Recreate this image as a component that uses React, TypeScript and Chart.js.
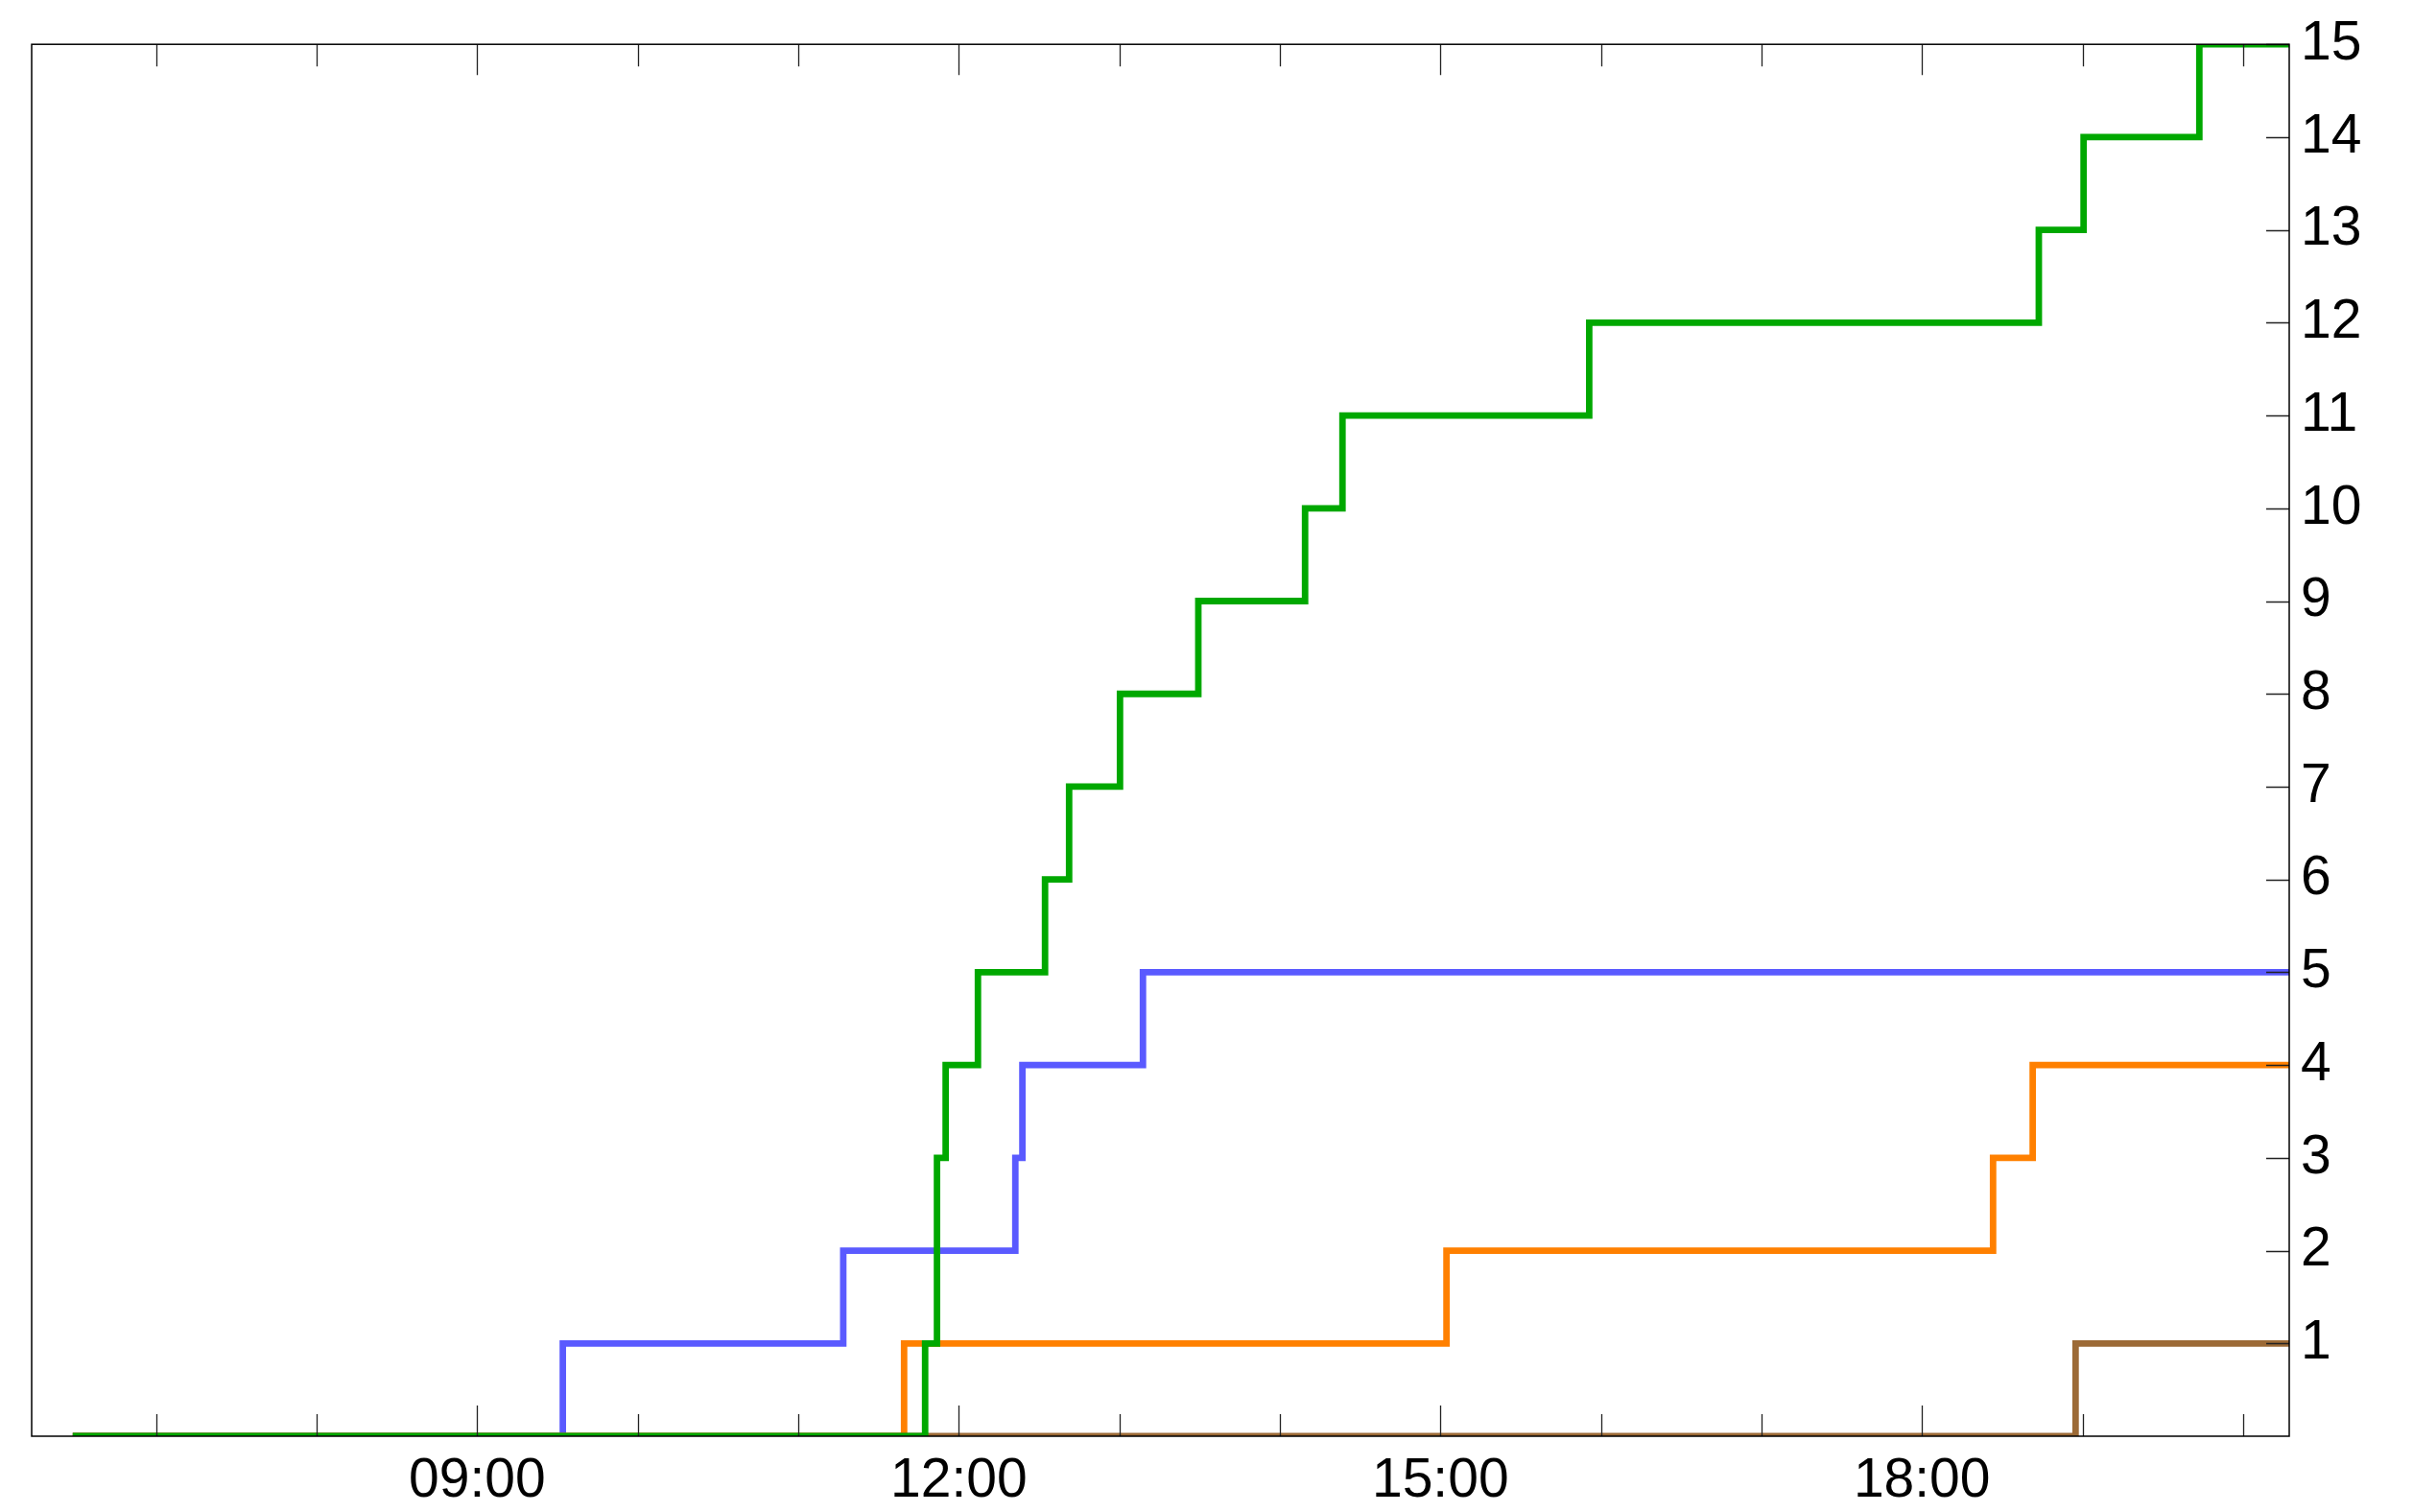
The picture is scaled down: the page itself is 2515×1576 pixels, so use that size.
import React, { useEffect, useRef } from "react";
import { Chart, registerables } from "chart.js";

Chart.register(...registerables);

// Axis range (hours of day) and ticks
const X_MIN = 6.224;
const X_MAX = 20.288;
const Y_MIN = 0;
const Y_MAX = 15;
const LABEL_HOURS = [9, 12, 15, 18];
const MINOR_HOURS = [7, 8, 9, 10, 11, 12, 13, 14, 15, 16, 17, 18, 19, 20];
const Y_TICKS = [1, 2, 3, 4, 5, 6, 7, 8, 9, 10, 11, 12, 13, 14, 15];

// Series: step times (hours) and the value reached at each time
const greenTimes = [6.48, 11.79, 11.864, 11.918, 12.119, 12.537, 12.687, 13.004, 13.492, 14.157, 14.39, 15.927, 18.728, 19.007, 19.728, 20.288];
const greenValues = [0, 1, 3, 4, 5, 6, 7, 8, 9, 10, 11, 12, 13, 14, 15, 15];

const blueTimes = [6.48, 9.533, 11.28, 12.352, 12.396, 13.147, 20.288];
const blueValues = [0, 1, 2, 3, 4, 5, 5];

const orangeTimes = [6.48, 11.659, 15.038, 18.443, 18.69, 20.288];
const orangeValues = [0, 1, 2, 3, 4, 4];

const brownTimes = [6.48, 18.957, 20.288];
const brownValues = [0, 1, 1];

const GREEN = "#00a800";
const BLUE = "#5a5aff";
const ORANGE = "#ff8000";
const BROWN = "#9c6a36";

const FONT_FAMILY = "'Liberation Sans', Arial, sans-serif";

function pts(times: number[], values: number[]) {
  return times.map((t, i) => ({ x: t, y: values[i] }));
}

function hourLabel(h: number) {
  return `${String(Math.round(h)).padStart(2, "0")}:00`;
}

const framePlugin = {
  id: "frameTicks",
  afterDatasetsDraw(chart: any) {
    const { ctx, chartArea: a, scales } = chart;
    const xs = scales.x;
    const ys = scales.y;
    ctx.save();
    ctx.strokeStyle = "#222";
    ctx.lineWidth = 1.3;
    ctx.beginPath();
    for (const h of MINOR_HOURS) {
      const px = Math.round(xs.getPixelForValue(h)) + 0.5;
      const len = LABEL_HOURS.includes(h) ? 32 : 23;
      ctx.moveTo(px, a.bottom);
      ctx.lineTo(px, a.bottom - len);
      ctx.moveTo(px, a.top);
      ctx.lineTo(px, a.top + len);
    }
    for (const v of Y_TICKS) {
      const py = Math.round(ys.getPixelForValue(v)) + 0.5;
      ctx.moveTo(a.right, py);
      ctx.lineTo(a.right - 24, py);
    }
    ctx.stroke();
    ctx.strokeStyle = "#000";
    ctx.lineWidth = 1.5;
    ctx.strokeRect(a.left, a.top, a.right - a.left, a.bottom - a.top);
    ctx.restore();
  },
};

export default function App() {
  const canvasRef = useRef<HTMLCanvasElement | null>(null);

  useEffect(() => {
    const canvas = canvasRef.current;
    if (!canvas) return;
    const common = {
      pointRadius: 0,
      pointHoverRadius: 0,
      borderWidth: 6.8,
      fill: false,
      stepped: "before" as const,
      tension: 0,
      borderCapStyle: "butt" as const,
      borderJoinStyle: "miter" as const,
    };
    const chart = new Chart(canvas, {
      type: "line",
      data: {
        datasets: [
          { ...common, label: "green", data: pts(greenTimes, greenValues), borderColor: GREEN, order: 1 },
          { ...common, label: "brown", data: pts(brownTimes, brownValues), borderColor: BROWN, order: 2 },
          { ...common, label: "orange", data: pts(orangeTimes, orangeValues), borderColor: ORANGE, order: 3 },
          { ...common, label: "blue", data: pts(blueTimes, blueValues), borderColor: BLUE, order: 4 },
        ],
      },
      options: {
        animation: false,
        responsive: false,
        devicePixelRatio: 1,
        parsing: false as any,
        layout: { padding: { top: 43, left: 33, right: 0, bottom: 0 } },
        plugins: {
          legend: { display: false },
          tooltip: { enabled: false },
          title: { display: false },
        },
        scales: {
          x: {
            type: "linear",
            position: "bottom",
            min: X_MIN,
            max: X_MAX,
            grid: { display: false, drawTicks: false },
            border: { display: false },
            afterBuildTicks: (scale: any) => {
              scale.ticks = LABEL_HOURS.map((v) => ({ value: v }));
            },
            afterFit: (scale: any) => {
              scale.height = 79;
            },
            ticks: {
              autoSkip: false,
              maxRotation: 0,
              minRotation: 0,
              padding: 13,
              color: "#000",
              font: { family: FONT_FAMILY, size: 57 },
              callback: (v: any) => hourLabel(Number(v)),
            },
          },
          y: {
            type: "linear",
            position: "right",
            min: Y_MIN,
            max: Y_MAX,
            grid: { display: false, drawTicks: false },
            border: { display: false },
            afterBuildTicks: (scale: any) => {
              scale.ticks = Y_TICKS.map((v) => ({ value: v }));
            },
            afterFit: (scale: any) => {
              scale.width = 129;
            },
            ticks: {
              autoSkip: false,
              padding: 12,
              color: "#000",
              font: { family: FONT_FAMILY, size: 57 },
              callback: (v: any) => String(v),
            },
          },
        },
      },
      plugins: [framePlugin],
    } as any);
    return () => chart.destroy();
  }, []);

  return (
    <div style={{ position: "fixed", left: 0, top: 0, width: 2515, height: 1576, background: "#fff" }}>
      <canvas ref={canvasRef} width={2515} height={1576} style={{ display: "block" }} />
    </div>
  );
}
